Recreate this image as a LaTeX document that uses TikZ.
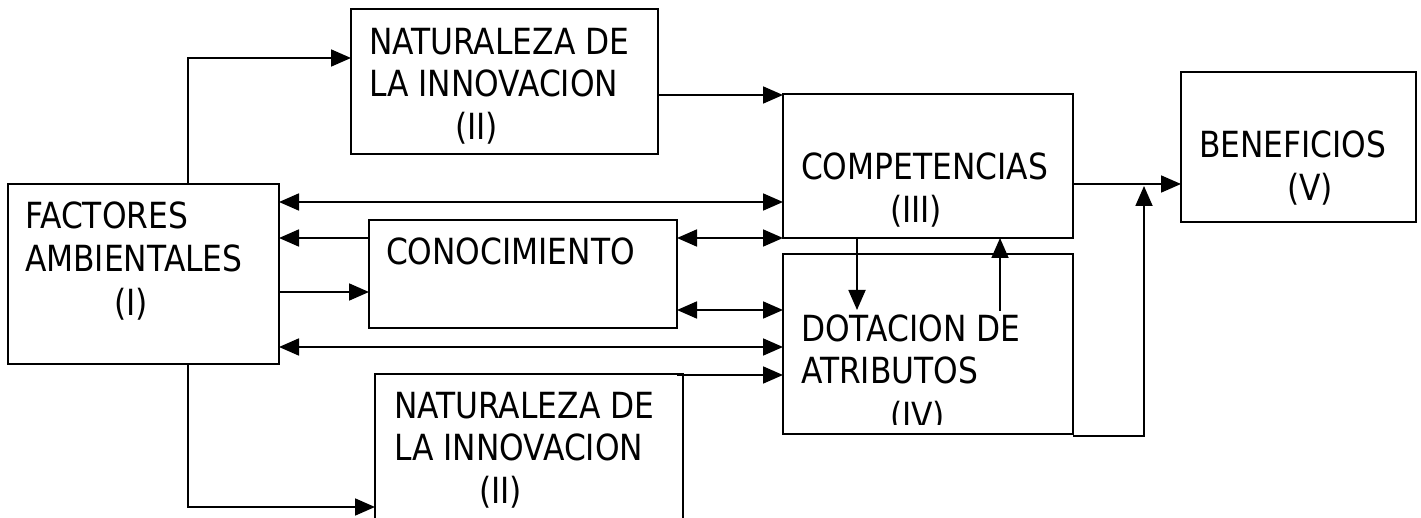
\documentclass[tikz,border=0pt]{standalone}
\usepackage{fontspec}
\setmainfont{DejaVu Sans}[FakeStretch=0.87]
\usetikzlibrary{arrows.meta}
\begin{document}
\begin{tikzpicture}[x=1pt,y=-1pt,
  box/.style={draw=black,line width=1.8pt,rectangle,inner sep=0pt,outer sep=0pt,anchor=north west},
  txt/.style={anchor=base west,inner sep=0pt,outer sep=0pt,font=\fontsize{36}{42}\selectfont},
  conn/.style={line width=1.8pt,draw=black},
  arr/.style={conn,-{Triangle[length=20pt,width=17pt]}},
  dbl/.style={conn,{Triangle[length=20pt,width=17pt]}-{Triangle[length=20pt,width=17pt]}}]
\useasboundingbox (0,0) rectangle (1421,518);
% boxes
\node[box,minimum width=271pt,minimum height=180pt] (fact) at (8,184) {};
\node[box,minimum width=307pt,minimum height=145pt] (natA) at (351,9) {};
\node[box,minimum width=290pt,minimum height=144pt] (comp) at (783,94) {};
\node[box,minimum width=235pt,minimum height=150pt] (ben) at (1181,72) {};
\node[box,minimum width=308pt,minimum height=108pt] (cono) at (369,220) {};
\node[box,minimum width=290pt,minimum height=180pt] (dot) at (783,254) {};
\node[box,minimum width=308pt,minimum height=170pt] (natB) at (375,374) {};
% texts
\node[txt] (natA1) at (369,55) {NATURALEZA DE};
\node[txt] (natA2) at (369,97) {LA INNOVACION};
\node[txt] (natA3) at (455,140) {(II)};
\node[txt] (fact1) at (25,229) {FACTORES};
\node[txt] (fact2) at (25,272) {AMBIENTALES};
\node[txt] (fact3) at (114,316) {(I)};
\node[txt] (cono1) at (386,265) {CONOCIMIENTO};
\node[txt] (comp1) at (801,180) {COMPETENCIAS};
\node[txt] (comp2) at (890,223) {(III)};
\node[txt] (ben1) at (1199,158) {BENEFICIOS};
\node[txt] (ben2) at (1287,201) {(V)};
\node[txt] (dot1) at (801,342) {DOTACION DE};
\node[txt] (dot2) at (801,384) {ATRIBUTOS};
\begin{scope}
\clip (783,254) rectangle (1073,424);
\node[txt] (dot3) at (890,428) {(IV)};
\end{scope}
\node[txt] (natB1) at (394,418) {NATURALEZA DE};
\node[txt] (natB2) at (394,460) {LA INNOVACION};
\node[txt] (natB3) at (479,503) {(II)};
% free ends
\coordinate (cdown) at (857,310);
\coordinate (cup) at (1000,311);
\coordinate (join) at (1144,186);
\coordinate (nbstart) at (677,375);
% connectors
\draw[arr] (fact.north -| 188,0) |- (natA.west |- 0,58);
\draw[arr] (natA.east |- 0,95) -- (comp.west |- 0,95);
\draw[dbl] (fact.east |- 0,202) -- (comp.west |- 0,202);
\draw[arr] (cono.west |- 0,238) -- (fact.east |- 0,238);
\draw[dbl] (cono.east |- 0,238) -- (comp.west |- 0,238);
\draw[arr] (fact.east |- 0,292) -- (cono.west |- 0,292);
\draw[dbl] (cono.east |- 0,310) -- (dot.west |- 0,310);
\draw[dbl] (fact.east |- 0,347) -- (dot.west |- 0,347);
\draw[arr] (nbstart) -- (dot.west |- nbstart);
\draw[arr] (fact.south -| 188,0) |- (natB.west |- 0,507);
\draw[arr] (comp.east |- 0,184) -- (ben.west |- 0,184);
\draw[arr] (comp.south -| cdown) -- (cdown);
\draw[arr] (cup) -- (comp.south -| cup);
\draw[arr] (dot.south east |- 0,436) -| (join);
\end{tikzpicture}
\end{document}
